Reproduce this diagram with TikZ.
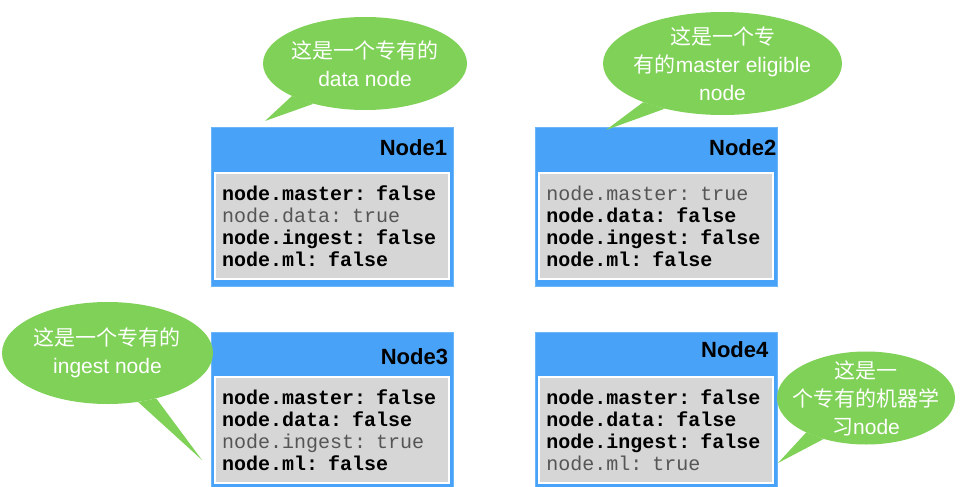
\documentclass[tikz,border=0pt]{standalone}
\usepackage{fontspec}
\setmainfont{Liberation Sans}
\setmonofont{Liberation Mono}
\newfontfamily\cjkfont{Noto Sans CJK SC}
\usetikzlibrary{shapes.geometric, positioning}
\definecolor{nodeblue}{HTML}{48A2F7}
\definecolor{bubblegreen}{HTML}{7FD157}
\definecolor{panelgray}{HTML}{D6D6D6}
\definecolor{truegray}{HTML}{555555}
\newcommand{\zh}[1]{{\cjkfont #1}}
\newcommand{\flagoff}[1]{{\bfseries #1: false}}
\newcommand{\flagon}[1]{{\color{truegray}#1: true}}

\begin{document}
\begin{tikzpicture}[
    x=1pt, y=-1pt,
    nodebox/.style = {rectangle, fill=nodeblue, draw=nodeblue!80!white,
                      minimum width=242pt, minimum height=159pt, inner sep=0pt},
    headlabel/.style = {font=\fontsize{22}{26}\selectfont\bfseries, inner sep=0pt},
    panel/.style = {rectangle, fill=panelgray, draw=white, line width=2pt,
                    minimum height=106pt, text width=220pt, inner xsep=7pt,
                    align=left, font=\ttfamily\fontsize{20}{22}\selectfont},
    bubble/.style = {ellipse, fill=bubblegreen, inner sep=0pt},
    bubbletext/.style = {align=center, text=white, inner sep=0pt,
                         font=\fontsize{21}{28}\selectfont},
    tail/.style = {fill=bubblegreen}
  ]
    \useasboundingbox (0,0) rectangle (972,487);

    % Nodes
    \node[nodebox] (n1) at (332,206.5) {};
    \node[nodebox, right=82pt of n1] (n2) {};
    \node[nodebox, minimum height=157pt] (n3) at (332,410.5) {};
    \node[nodebox, minimum height=157pt, right=82pt of n3] (n4) {};

    % Header labels
    \node[headlabel, left=6pt of n1.north east, yshift=-21pt] (h1) {Node1};
    \node[headlabel, left=1pt of n2.north east, yshift=-21pt] (h2) {Node2};
    \node[headlabel, left=5pt of n3.north east, yshift=-25pt] (h3) {Node3};
    \node[headlabel, left=9pt of n4.north east, yshift=-18pt] (h4) {Node4};

    % Settings
    \node[panel, above=6pt of n1.south] (p1) {\flagoff{node.master}\\\flagon{node.data}\\\flagoff{node.ingest}\\\flagoff{node.ml}};
    \node[panel, above=6pt of n2.south] (p2) {\flagon{node.master}\\\flagoff{node.data}\\\flagoff{node.ingest}\\\flagoff{node.ml}};
    \node[panel, above=5pt of n3.south] (p3) {\flagoff{node.master}\\\flagoff{node.data}\\\flagon{node.ingest}\\\flagoff{node.ml}};
    \node[panel, above=5pt of n4.south] (p4) {\flagoff{node.master}\\\flagoff{node.data}\\\flagoff{node.ingest}\\\flagon{node.ml}};

    % Bubbles
    \node[bubble, minimum width=204pt, minimum height=93pt] (b1) at (365,63.5) {};
    \node[bubble, minimum width=239pt, minimum height=103pt] (b2) at (722.5,63.5) {};
    \node[bubble, minimum width=211pt, minimum height=102pt] (b3) at (107.5,353) {};
    \node[bubble, minimum width=178pt, minimum height=93pt] (b4) at (866,398) {};

    % Tails
    \coordinate (t1) at (265,121);
    \coordinate (t2) at (606,130);
    \coordinate (t3) at (202,460);
    \coordinate (t4) at (778,463);
    \fill[tail] (b1.204) -- (t1) -- (b1.218) -- cycle;
    \fill[tail] (b2.206) -- (t2) -- (b2.218) -- cycle;
    \fill[tail] (b3.302) -- (t3) -- (b3.317) -- cycle;
    \fill[tail] (b4.210) -- (t4) -- (b4.224) -- cycle;

    % Bubble texts
    \node[bubbletext] (c1) at (b1) {\zh{这是一个专有的}\\data node};
    \node[bubbletext] (c2) at (b2) {\zh{这是一个专}\\\zh{有的}master eligible\\node};
    \node[bubbletext] (c3) at (b3) {\zh{这是一个专有的}\\ingest node};
    \node[bubbletext] (c4) at (b4) {\zh{这是一}\\\zh{个专有的机器学}\\\zh{习}node};

  \end{tikzpicture}
\end{document}
